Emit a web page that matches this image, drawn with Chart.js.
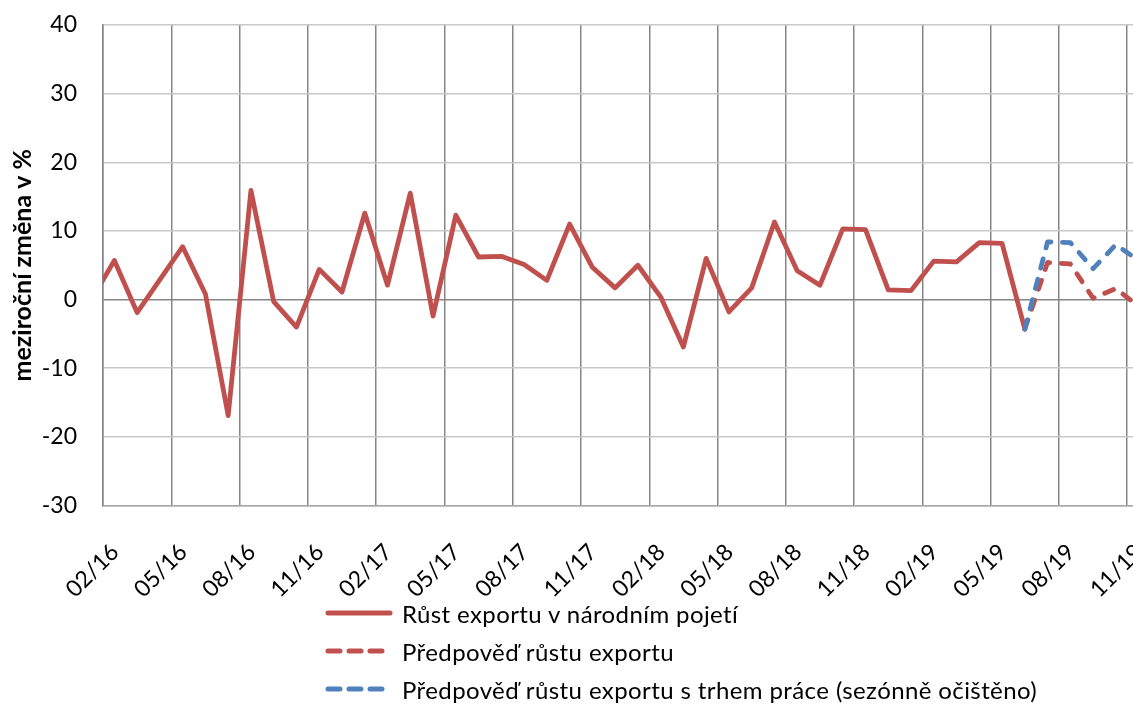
<!DOCTYPE html>
<html lang="cs">
<head>
<meta charset="utf-8">
<script src="https://cdn.jsdelivr.net/npm/chart.js@4.4.1/dist/chart.umd.min.js"></script>
<style>
  html, body { margin: 0; padding: 0; background: #fff; overflow: hidden; width: 1133px; height: 704px; }
  #wrap { position: absolute; left: 0; top: 0; width: 1160px; height: 600px; }
  #legend { position: absolute; left: 325px; top: 594px; font-family: Lato, sans-serif; font-size: 24px; letter-spacing: 0.4px; color: #000; }
  .item { display: flex; align-items: center; height: 38px; white-space: nowrap; }
  .item svg { width: 68px; height: 10px; margin-right: 9px; }
</style>
</head>
<body>
<div id="wrap"><canvas id="chart" width="1160" height="600"></canvas></div>
<div id="legend"></div>
<script>
const months = [
  '01/16', '02/16', '03/16', '04/16', '05/16', '06/16', '07/16', '08/16', '09/16', '10/16', '11/16', '12/16',
  '01/17', '02/17', '03/17', '04/17', '05/17', '06/17', '07/17', '08/17', '09/17', '10/17', '11/17', '12/17',
  '01/18', '02/18', '03/18', '04/18', '05/18', '06/18', '07/18', '08/18', '09/18', '10/18', '11/18', '12/18',
  '01/19', '02/19', '03/19', '04/19', '05/19', '06/19', '07/19', '08/19', '09/19', '10/19', '11/19'
];

// Růst exportu v národním pojetí (01/16 - 06/19)
const exportGrowth = [
  0.0, 5.7, -1.9, 2.9, 7.7, 0.8, -16.9, 15.9, -0.3, -4.0, 4.4, 1.1,
  12.6, 2.1, 15.5, -2.4, 12.3, 6.2, 6.3, 5.1, 2.8, 11.0, 4.7, 1.7,
  5.0, 0.4, -6.9, 6.0, -1.8, 1.7, 11.3, 4.2, 2.1, 10.3, 10.2, 1.4,
  1.3, 5.6, 5.5, 8.3, 8.2, -4.3,
  null, null, null, null, null
];

// Předpověď (06/19 - 11/19)
const forecastMonths = ['06/19', '07/19', '08/19', '09/19', '10/19', '11/19'];
const forecast = [-4.3, 5.4, 5.2, 0.2, 1.6, -1.0];
const forecastLabour = [-4.3, 8.4, 8.3, 4.5, 8.0, 5.7];

const yTicks = [-30, -20, -10, 0, 10, 20, 30, 40];

const RED = '#C0504D';
const BLUE = '#4F81BD';

function toPoints(labels, values) {
  return values.map((v, i) => ({ x: months.indexOf(labels[i]), y: v }));
}

// gridlines sit between months, every third month
const gridPositions = [];
for (let i = 0.5; i < months.length; i += 3) gridPositions.push(i);

const datasets = [
  {
    label: 'Růst exportu v národním pojetí',
    data: toPoints(months, exportGrowth),
    borderColor: RED,
    borderWidth: 4.8,
    order: 3,
  },
  {
    label: 'Předpověď růstu exportu',
    data: toPoints(forecastMonths, forecast),
    borderColor: RED,
    borderWidth: 4.8,
    borderDash: [9.5, 11.5],
    order: 2,
  },
  {
    label: 'Předpověď růstu exportu s trhem práce (sezónně očištěno)',
    data: toPoints(forecastMonths, forecastLabour),
    borderColor: BLUE,
    borderWidth: 4.8,
    borderDash: [9.5, 11.5],
    order: 1,
  },
];

const chart = new Chart(document.getElementById('chart'), {
  type: 'line',
  data: { datasets },
  options: {
    responsive: false,
    animation: false,
    layout: { padding: { top: 25, right: 10, left: 0, bottom: 0 }, autoPadding: false },
    elements: {
      point: { radius: 0 },
      line: { tension: 0, borderCapStyle: 'round', borderJoinStyle: 'round', fill: false },
    },
    plugins: {
      legend: { display: false },
      tooltip: { enabled: false },
      title: { display: false },
    },
    scales: {
      x: {
        type: 'linear',
        min: 0.5,
        max: 46.5,
        afterBuildTicks: (scale) => { scale.ticks = gridPositions.map(v => ({ value: v })); },
        afterFit: (scale) => {
          scale.height = 94.5;
          scale.paddingLeft = 0;
          scale.paddingRight = 0;
        },
        ticks: {
          autoSkip: false,
          minRotation: 45,
          maxRotation: 45,
          labelOffset: 12,
          padding: 33,
          color: '#000',
          font: { family: 'Lato', size: 23 },
          callback: (v) => months[v + 0.5] || '',
        },
        grid: { color: '#868686', lineWidth: 1.5, drawTicks: false },
        border: { color: '#a6a6a6', width: 1.5 },
      },
      y: {
        min: -30,
        max: 40,
        afterBuildTicks: (scale) => { scale.ticks = yTicks.map(v => ({ value: v })); },
        afterFit: (scale) => {
          scale.width = 103;
          scale.paddingTop = 0;
          scale.paddingBottom = 0;
        },
        ticks: {
          padding: 26,
          color: '#000',
          font: { family: 'Lato', size: 23 },
        },
        grid: {
          color: (ctx) => (ctx.tick && ctx.tick.value === 0 ? '#868686' : '#c8c8c8'),
          lineWidth: 1.5,
          drawTicks: false,
        },
        border: { color: '#868686', width: 1.5 },
        title: {
          display: true,
          text: 'meziroční změna v %',
          color: '#000',
          font: { family: 'Lato', size: 25, weight: 'bold' },
          padding: { top: 8, bottom: 0 },
        },
      },
    },
  },
});

// legend stacked in one column, like the original
const legendEl = document.getElementById('legend');
chart.data.datasets.forEach(ds => {
  const dash = ds.borderDash ? `stroke-dasharray="12 9"` : '';
  legendEl.insertAdjacentHTML('beforeend', `
    <div class="item">
      <svg viewBox="0 0 68 10"><line x1="3" y1="5" x2="65" y2="5" stroke="${ds.borderColor}" stroke-width="5" stroke-linecap="round" ${dash}/></svg>
      <span>${ds.label}</span>
    </div>
  `);
});
</script>
</body>
</html>
